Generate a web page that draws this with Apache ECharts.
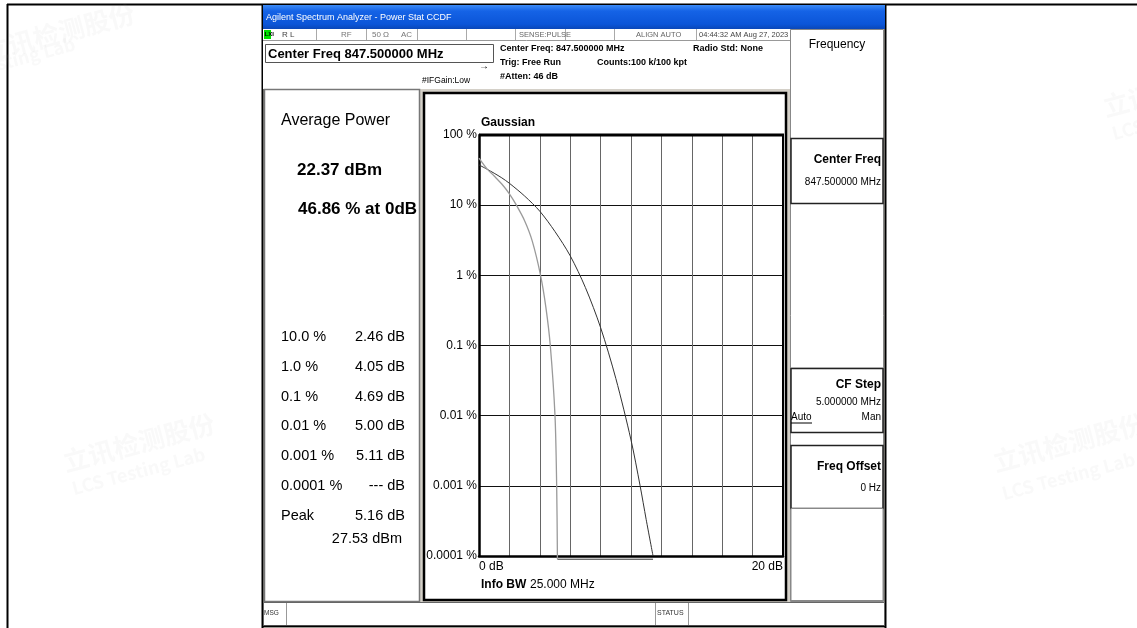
<!DOCTYPE html>
<html>
<head>
<meta charset="utf-8">
<script src="https://cdn.jsdelivr.net/npm/echarts@6/dist/echarts.min.js"></script>
<style>
html,body{margin:0;padding:0;background:#fff;}
#c{width:1137px;height:628px;}
</style>
</head>
<body>
<div id="c"></div>
<script>
// ---- data ----
const xTickLabels = ['0 dB', '20 dB'];
const yTickLabels = ['0.0001 %', '0.001 %', '0.01 %', '0.1 %', '1 %', '10 %', '100 %'];
const FLOOR = 0.00009;
const measuredDb  = [0, 0.5, 1.0, 1.5, 2.0, 2.46, 3.0, 3.5, 4.05, 4.4, 4.69, 5.0, 5.11, 5.16];
const measuredPct = [46.86, 33.5, 26, 20, 14.5, 10, 6, 3.1, 1.0, 0.35, 0.1, 0.01, 0.001, FLOOR];
const gaussDb  = [0, 0.5, 1, 1.5, 2, 3, 4, 5, 6, 7, 8, 9, 10, 10.6, 11.0, 11.45];
const gaussPct = [37.5, 32.8, 28.5, 24.5, 20.5, 13.5, 8.2, 4.2, 1.9, 0.67, 0.18, 0.034, 0.0045, 0.001, 0.00033, 0.0001];
const floorDb  = [5.16, 11.45];
const floorPct = [FLOOR, FLOOR];
const statsLabels = ['10.0 %', '1.0 %', '0.1 %', '0.01 %', '0.001 %', '0.0001 %', 'Peak'];
const statsValues = ['2.46 dB', '4.05 dB', '4.69 dB', '5.00 dB', '5.11 dB', '--- dB', '5.16 dB'];

const FF = "'Liberation Sans', Arial, sans-serif";
const chart = echarts.init(document.getElementById('c'), null, {renderer: 'canvas'});

function T(x, y, text, size, opt) {
  opt = opt || {};
  return {
    type: 'text', x: x, y: y, z: 50, silent: true,
    style: {
      text: text,
      font: (opt.bold ? 'bold ' : '') + size + 'px ' + FF,
      fill: opt.fill || '#000',
      align: opt.align || 'left',
      verticalAlign: 'middle'
    }
  };
}
function R(x, y, w, h, fill, stroke, lw, z) {
  return {
    type: 'rect', z: z === undefined ? -5 : z, silent: true,
    shape: {x: x, y: y, width: w, height: h},
    style: {fill: fill || 'none', stroke: stroke || null, lineWidth: lw || 1}
  };
}
function L(x1, y1, x2, y2, stroke, lw, z) {
  return {
    type: 'line', z: z === undefined ? -4 : z, silent: true,
    shape: {x1: x1, y1: y1, x2: x2, y2: y2},
    style: {stroke: stroke, lineWidth: lw || 1}
  };
}

const g = [];
// outer page lines
g.push(L(7, 4.5, 1137, 4.5, '#000', 2, -9));
g.push(L(7.5, 4, 7.5, 628, '#000', 2, -9));
// screenshot background
g.push(R(263, 5, 622, 623, '#d4d0c8', null, 1, -8));
g.push(L(262.5, 4, 262.5, 628, '#000', 2, -7));
g.push(L(885.5, 4, 885.5, 628, '#000', 2, -7));
// title bar
g.push({
  type: 'rect', z: -6, silent: true,
  shape: {x: 263, y: 5, width: 622, height: 24},
  style: {fill: new echarts.graphic.LinearGradient(0, 0, 0, 1, [
    {offset: 0, color: '#3d8cf7'}, {offset: 0.25, color: '#1563e6'},
    {offset: 0.8, color: '#0b55d8'}, {offset: 1, color: '#0a47b8'}])}
});
g.push(T(266, 18, 'Agilent Spectrum Analyzer - Power Stat CCDF', 9, {fill: '#fff'}));
// header area
g.push(R(263, 29, 527, 60, '#fff', null, 1, -6));
g.push(L(263, 40.5, 790, 40.5, '#999', 1, -5));
[316, 366, 417, 466, 515, 565, 614, 696].forEach(function (x) {
  g.push(L(x + 0.5, 29, x + 0.5, 40, '#aaa', 1, -5));
});
g.push(R(264, 30, 7, 9, '#00e000', null, 1, -4));
g.push(T(264.5, 34.5, 'LXI', 6, {bold: true}));
g.push(T(282, 34.5, 'R L', 8, {fill: '#444'}));
g.push(T(341, 34.5, 'RF', 8, {fill: '#777'}));
g.push(T(372, 34.5, '50 Ω', 8, {fill: '#777'}));
g.push(T(401, 34.5, 'AC', 8, {fill: '#777'}));
g.push(T(519, 34.5, 'SENSE:PULSE', 7.5, {fill: '#666'}));
g.push(T(636, 34.5, 'ALIGN AUTO', 7.5, {fill: '#666'}));
g.push(T(699, 34.5, '04:44:32 AM Aug 27, 2023', 7.5, {fill: '#444'}));
g.push(R(265.5, 44.5, 228, 18, '#fff', '#555', 1, -4));
g.push(T(268, 54, 'Center Freq 847.500000 MHz', 13, {bold: true}));
g.push(T(500, 49, 'Center Freq: 847.500000 MHz', 9, {bold: true}));
g.push(T(500, 63, 'Trig: Free Run', 9, {bold: true}));
g.push(T(500, 77, '#Atten: 46 dB', 9, {bold: true}));
g.push(T(597, 63, 'Counts:100 k/100 kpt', 9, {bold: true}));
g.push(T(693, 49, 'Radio Std: None', 9, {bold: true}));
g.push(T(422, 81, '#IFGain:Low', 8.5));
g.push(T(484, 66, '→', 10, {align: 'center'}));
// left panel
g.push(R(264.5, 89.5, 155, 512, '#fff', '#777', 1.5, -6));
g.push(T(281, 121, 'Average Power', 16));
g.push(T(297, 170, '22.37 dBm', 17, {bold: true}));
g.push(T(298, 209, '46.86 % at 0dB', 17, {bold: true}));
const rowsY = [337, 367, 397, 426, 456, 486, 516];
statsLabels.forEach(function (s, i) {
  g.push(T(281, rowsY[i], s, 14.5));
  g.push(T(405, rowsY[i], statsValues[i], 14.5, {align: 'right'}));
});
g.push(T(402, 539, '27.53 dBm', 14.5, {align: 'right'}));
// chart box
g.push(R(424, 93, 362, 507, '#fff', '#000', 2.5, -6));
g.push(T(481, 123, 'Gaussian', 12, {bold: true}));
g.push(T(481, 585, 'Info BW', 12, {bold: true}));
g.push(T(530, 585, '25.000 MHz', 12));
// softkeys column
g.push(R(790.5, 29.5, 93, 572, '#fff', '#888', 1, -6));
g.push(T(837, 45, 'Frequency', 12, {align: 'center'}));
g.push(R(791, 138.5, 92, 65, '#fff', '#222', 1.5, -5));
g.push(T(881, 160, 'Center Freq', 12, {bold: true, align: 'right'}));
g.push(T(881, 182, '847.500000 MHz', 10, {align: 'right'}));
g.push(L(790, 368, 884, 368, '#bbb', 1, -5));
g.push(R(791, 368.5, 92, 64, '#fff', '#222', 1.5, -5));
g.push(T(881, 385, 'CF Step', 12, {bold: true, align: 'right'}));
g.push(T(881, 402, '5.000000 MHz', 10, {align: 'right'}));
g.push(T(791, 417, 'Auto', 10));
g.push(L(791, 423, 812, 423, '#000', 1, 51));
g.push(T(881, 417, 'Man', 10, {align: 'right'}));
g.push(R(791, 445.5, 92, 63, '#fff', '#222', 1.5, -5));
g.push(T(881, 467, 'Freq Offset', 12, {bold: true, align: 'right'}));
g.push(T(881, 488, '0 Hz', 10, {align: 'right'}));
g.push(R(791, 508.5, 92, 92, '#fff', '#888', 1, -5));
// status bar
g.push(R(263.5, 602.5, 621, 23, '#fff', '#666', 1, -6));
g.push(L(286.5, 603, 286.5, 625, '#999', 1, -5));
g.push(L(655.5, 603, 655.5, 625, '#999', 1, -5));
g.push(L(688.5, 603, 688.5, 625, '#999', 1, -5));
g.push(T(264, 613, 'MSG', 6.5, {fill: '#333'}));
g.push(T(657, 613, 'STATUS', 7, {fill: '#333'}));
g.push(L(263, 626.5, 885, 626.5, '#000', 1.5, -4));
// faint watermarks
function W(x, y, text, size, rot) {
  return {type: 'text', x: x, y: y, z: -1, rotation: rot, silent: true,
    style: {text: text, font: 'bold ' + size + 'px ' + "'Noto Sans CJK SC', sans-serif", fill: 'rgba(150,160,155,0.06)'}};
}
g.push(W(-20, 40, '立讯检测股份', 26, 0.26));
g.push(W(-60, 70, 'LCS Testing Lab', 18, 0.26));
g.push(W(60, 450, '立讯检测股份', 26, 0.26));
g.push(W(70, 480, 'LCS Testing Lab', 18, 0.26));
g.push(W(1100, 95, '立讯检测', 26, 0.26));
g.push(W(1110, 125, 'LCS Testing', 18, 0.26));
g.push(W(990, 450, '立讯检测股份', 26, 0.26));
g.push(W(1000, 485, 'LCS Testing Lab', 18, 0.26));

function pairs(xs, ys) { return xs.map(function (x, i) { return [x, ys[i]]; }); }

const option = {
  animation: false,
  backgroundColor: '#fff',
  graphic: g,
  grid: {left: 479, top: 135, width: 304, height: 421, show: false},
  xAxis: {
    type: 'value', min: 0, max: 20, interval: 2,
    axisLine: {show: true, onZero: false, lineStyle: {color: '#000', width: 2.5}},
    axisTick: {show: false},
    splitLine: {show: true, lineStyle: {color: '#666', width: 1}},
    axisLabel: {
      show: true, margin: 5, color: '#000', fontSize: 12, fontFamily: FF,
      alignMinLabel: 'left', alignMaxLabel: 'right',
      formatter: function (v) { return v === 0 ? xTickLabels[0] : (v === 20 ? xTickLabels[1] : ''); }
    }
  },
  yAxis: {
    type: 'log', logBase: 10, min: 0.0001, max: 100, splitNumber: 6,
    axisLine: {show: true, lineStyle: {color: '#000', width: 2.5}},
    axisTick: {show: false},
    splitLine: {show: true, lineStyle: {color: '#111', width: 1}},
    axisLabel: {
      show: true, margin: 2, color: '#000', fontSize: 12, fontFamily: FF,
      formatter: function (v) {
        const k = Math.round(Math.log10(v)) + 4;
        return yTickLabels[k] || '';
      }
    }
  },
  series: [
    {
      type: 'line', name: 'Gaussian', data: pairs(gaussDb, gaussPct),
      showSymbol: false, symbol: 'none', smooth: 0.3, clip: false, z: 3,
      lineStyle: {color: '#333', width: 1}
    },
    {
      type: 'line', name: 'Floor', data: pairs(floorDb, floorPct),
      showSymbol: false, symbol: 'none', clip: false, z: 3,
      lineStyle: {color: '#333', width: 1}
    },
    {
      type: 'line', name: 'Measured', data: pairs(measuredDb, measuredPct),
      showSymbol: false, symbol: 'none', smooth: 0.3, clip: false, z: 4,
      lineStyle: {color: '#9a9a9a', width: 1.3}
    }
  ]
};
// top & right plot borders
g.push(L(479, 135, 784, 135, '#000', 3, 10));
g.push(L(783, 134, 783, 557, '#000', 2, 10));
chart.setOption(option);
</script>
</body>
</html>
